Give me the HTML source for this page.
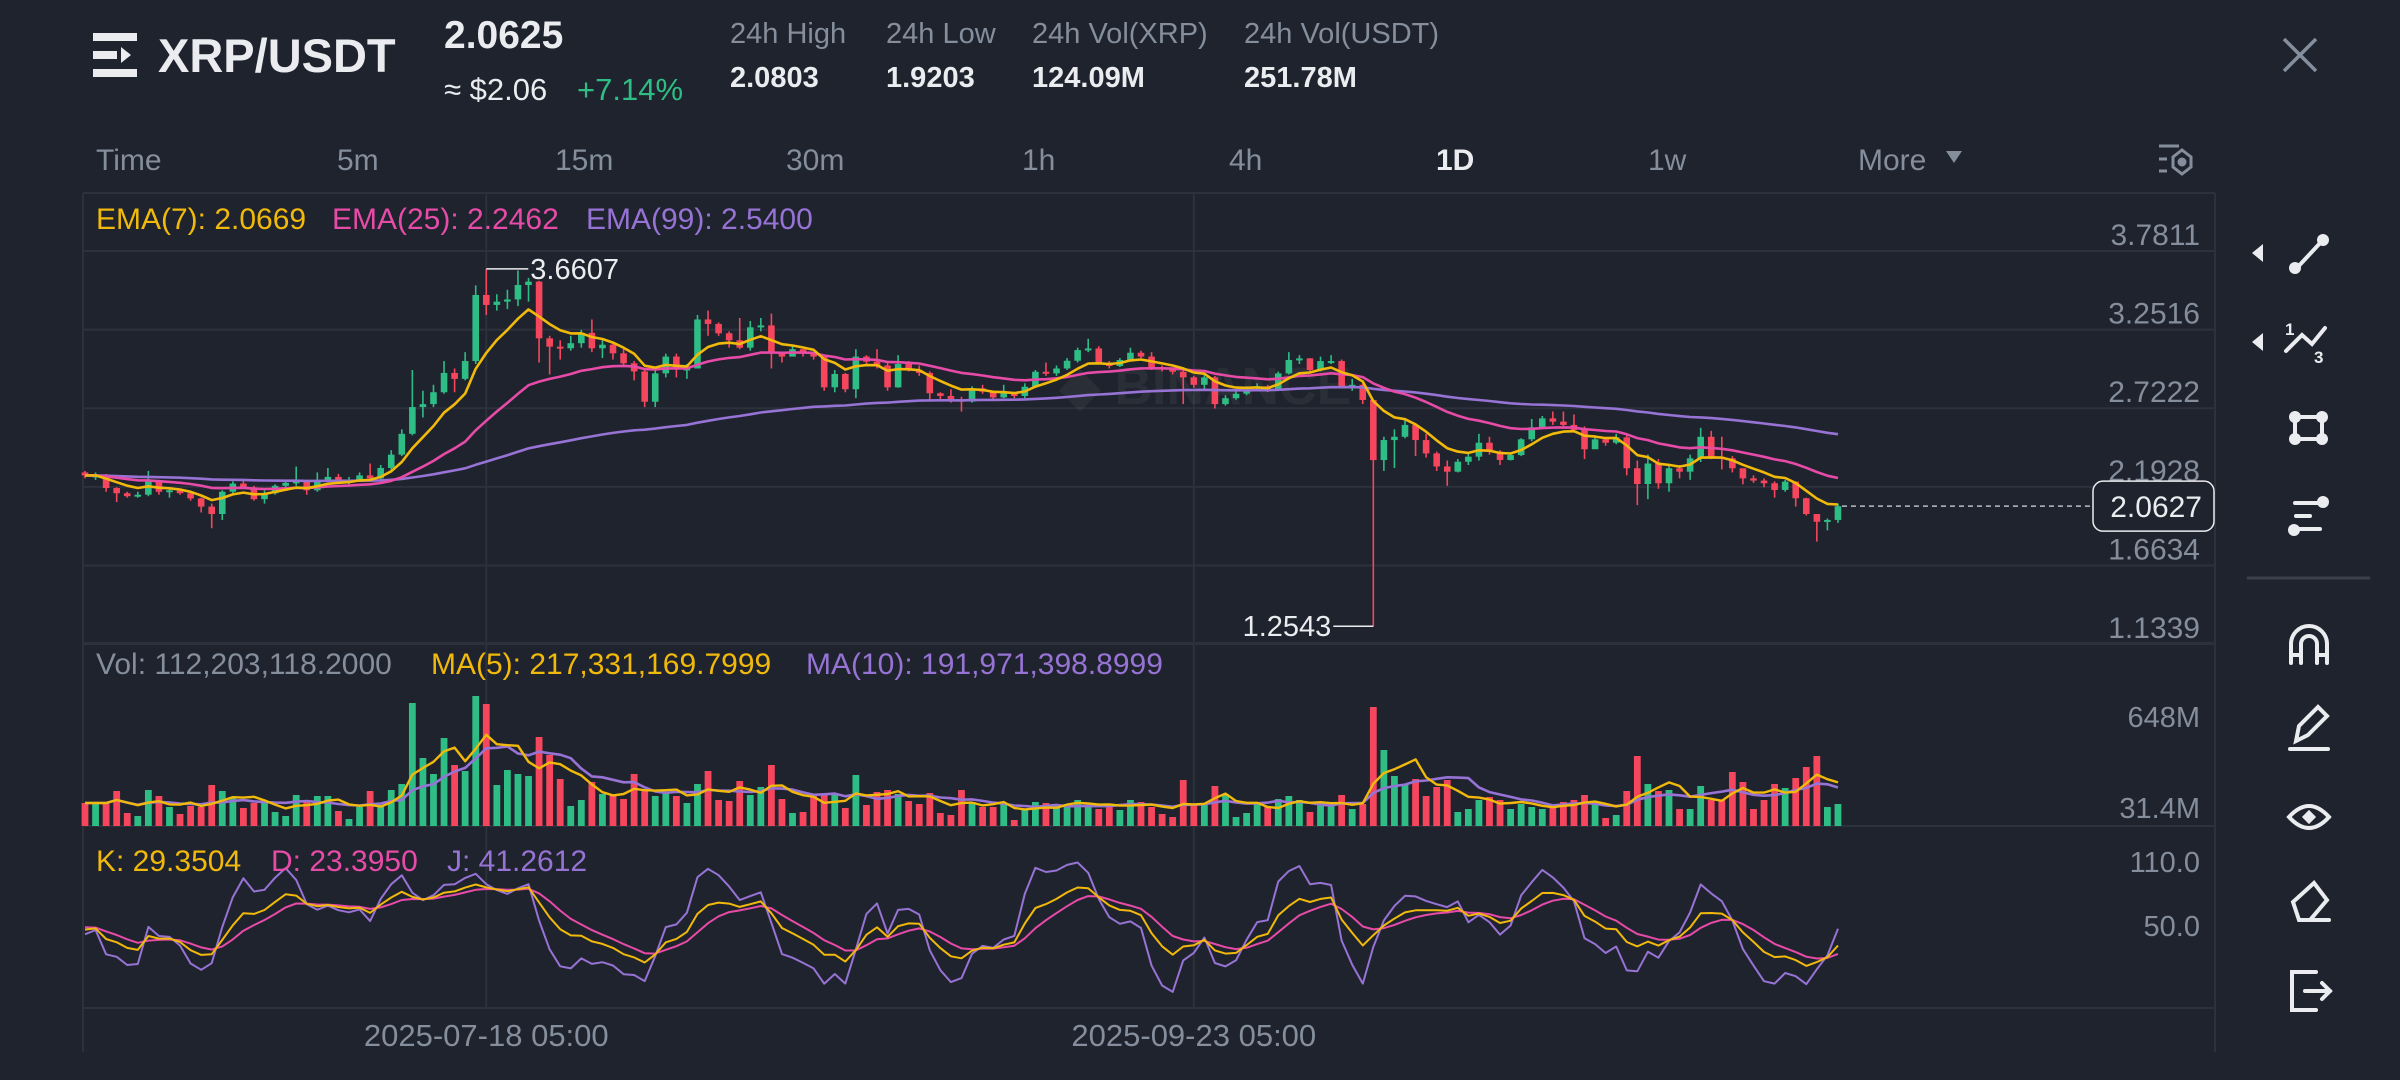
<!DOCTYPE html>
<html><head><meta charset="utf-8"><style>
html,body{margin:0;padding:0;background:#1f232d;}
svg{display:block;font-family:"Liberation Sans",sans-serif;}
</style></head><body>
<svg id="c" width="2400" height="1080" viewBox="0 0 2400 1080" xmlns="http://www.w3.org/2000/svg">
<rect x="0" y="0" width="2400" height="1080" fill="#1f232d"/>
<g>
  <g fill="#eaecef">
    <rect x="93" y="33" width="44" height="8"/><rect x="93" y="51" width="24" height="8"/><polygon points="121,47 121,63 131,55"/><rect x="93" y="69" width="44" height="8"/>
  </g>
  <text x="158" y="72" font-size="47" font-weight="bold" fill="#eaecef">XRP/USDT</text>
  <text x="444" y="48" font-size="39" font-weight="bold" fill="#eaecef">2.0625</text>
  <text x="444" y="100" font-size="31" fill="#eaecef">≈ $2.06</text>
  <text x="577" y="100" font-size="31" fill="#2ebd85">+7.14%</text>
  <g font-size="29" fill="#848e9c">
    <text x="730" y="43">24h High</text>
    <text x="886" y="43">24h Low</text>
    <text x="1032" y="43">24h Vol(XRP)</text>
    <text x="1244" y="43">24h Vol(USDT)</text>
  </g>
  <g font-size="29" font-weight="bold" fill="#eaecef">
    <text x="730" y="87">2.0803</text>
    <text x="886" y="87">1.9203</text>
    <text x="1032" y="87">124.09M</text>
    <text x="1244" y="87">251.78M</text>
  </g>
  <g stroke="#848e9c" stroke-width="3.5"><line x1="2284" y1="39" x2="2316" y2="71"/><line x1="2316" y1="39" x2="2284" y2="71"/></g>
</g>
<g font-size="30" fill="#848e9c">
  <text x="96" y="170">Time</text>
  <text x="337" y="170">5m</text>
  <text x="555" y="170">15m</text>
  <text x="786" y="170">30m</text>
  <text x="1022" y="170">1h</text>
  <text x="1229" y="170">4h</text>
  <text x="1436" y="170" font-weight="bold" fill="#eaecef">1D</text>
  <text x="1648" y="170">1w</text>
  <text x="1858" y="170">More</text>
  <polygon points="1946,151 1962,151 1954,163" fill="#848e9c"/>
  <g stroke="#848e9c" stroke-width="3" fill="none">
    <line x1="2159" y1="146" x2="2179" y2="146"/><line x1="2159" y1="159" x2="2167" y2="159"/><line x1="2159" y1="171" x2="2167" y2="171"/><polygon points="2182,150 2191,157 2191,167 2182,174 2173,167 2173,157"/><circle cx="2182" cy="162" r="3" fill="#848e9c"/>
  </g>
</g>
<g id="grid" stroke="#2c313c" stroke-width="2">
  <line x1="83" y1="193" x2="2215" y2="193"/>
  <line x1="83" y1="193" x2="83" y2="1052"/>
  <line x1="2215" y1="193" x2="2215" y2="1052"/>
  <line x1="83" y1="643" x2="2215" y2="643"/>
  <line x1="83" y1="826" x2="2215" y2="826"/>
  <line x1="83" y1="1008" x2="2215" y2="1008"/>
</g>
<text x="1060" y="404" font-size="52" font-weight="bold" fill="#ffffff" fill-opacity="0.05">◆ BINANCE</text>
<g id="plot"></g>
<g font-size="30">
  <text x="96" y="229" fill="#f0b90b">EMA(7): 2.0669</text>
  <text x="332" y="229" fill="#e74ba8">EMA(25): 2.2462</text>
  <text x="586" y="229" fill="#9673d4">EMA(99): 2.5400</text>
  <text x="96" y="674" fill="#848e9c">Vol: 112,203,118.2000</text>
  <text x="431" y="674" fill="#f0b90b">MA(5): 217,331,169.7999</text>
  <text x="806" y="674" fill="#9673d4">MA(10): 191,971,398.8999</text>
  <text x="96" y="871" fill="#f0b90b">K: 29.3504</text>
  <text x="271" y="871" fill="#e74ba8">D: 23.3950</text>
  <text x="447" y="871" fill="#9673d4">J: 41.2612</text>
</g>
<g stroke="#eaecef" fill="none" stroke-width="4" stroke-linecap="round">
  <g><polygon points="2252,253 2263,244 2263,262" fill="#eaecef" stroke="none"/><line x1="2295" y1="270" x2="2322" y2="241"/><circle cx="2295" cy="268" r="6" fill="#eaecef" stroke="none"/><circle cx="2323" cy="240" r="6" fill="#eaecef" stroke="none"/></g>
  <g><polygon points="2252,342 2263,333 2263,351" fill="#eaecef" stroke="none"/><polyline points="2286,351 2302,335 2312,344 2325,328"/><text x="2285" y="335" font-size="17" font-weight="bold" fill="#eaecef" stroke="none">1</text><text x="2314" y="363" font-size="17" font-weight="bold" fill="#eaecef" stroke="none">3</text></g>
  <g><rect x="2295" y="417" width="27" height="22"/><circle cx="2295" cy="417" r="6" fill="#eaecef" stroke="none"/><circle cx="2322" cy="417" r="6" fill="#eaecef" stroke="none"/><circle cx="2295" cy="439" r="6" fill="#eaecef" stroke="none"/><circle cx="2322" cy="439" r="6" fill="#eaecef" stroke="none"/></g>
  <g><line x1="2295" y1="503" x2="2320" y2="503"/><line x1="2296" y1="516" x2="2310" y2="516"/><line x1="2298" y1="529" x2="2320" y2="529"/><circle cx="2323" cy="502" r="6" fill="#eaecef" stroke="none"/><circle cx="2294" cy="530" r="6" fill="#eaecef" stroke="none"/></g>
  <line x1="2248" y1="578" x2="2369" y2="578" stroke="#3a404c" stroke-width="3"/>
  <g><path d="M2291,663 V644 a18,18 0 0 1 36,0 V663"/><path d="M2301,663 V644 a8,8 0 0 1 16,0 V663"/><line x1="2291" y1="655" x2="2301" y2="655"/><line x1="2317" y1="655" x2="2327" y2="655"/></g>
  <g><path d="M2296,741 L2299,726 L2318,707 L2327,716 L2308,735 Z"/><line x1="2290" y1="749" x2="2328" y2="749"/></g>
  <g><path d="M2289,817 Q2309,795 2329,817 Q2309,839 2289,817 Z"/><rect x="2304" y="812" width="10" height="10" transform="rotate(45 2309 817)" fill="#eaecef" stroke="none"/></g>
  <g><path d="M2293,902 L2314,883 L2327,900 L2310,920 L2299,920 Z"/><line x1="2310" y1="920" x2="2329" y2="920"/></g>
  <g><path d="M2316,972 H2292 V1010 H2316"/><line x1="2305" y1="991" x2="2330" y2="991"/><polyline points="2322,983 2330,991 2322,999"/></g>
</g>
</svg>
<script>
const dates = ["2025-07-18 05:00","2025-09-23 05:00"];
const dateIdx = [38,105];
const priceTicks = [3.7811,3.2516,2.7222,2.1928,1.6634,1.1339];
const volTickLabels = ["648M","31.4M"];
const kdjTickLabels = ["110.0","50.0"];
const closes = [2.27,2.27,2.185,2.15,2.13,2.14,2.23,2.16,2.17,2.15,
2.115,2.06,2.01,2.16,2.215,2.19,2.11,2.15,2.20,2.22,
2.23,2.17,2.24,2.26,2.24,2.24,2.27,2.25,2.32,2.41,
2.55,2.73,2.75,2.83,2.96,2.92,3.04,3.485,3.418,3.44,
3.455,3.552,3.575,3.193,3.137,3.126,3.16,3.23,3.126,3.15,
3.092,3.025,2.97,2.766,2.957,3.07,2.99,2.99,3.32,3.29,
3.227,3.18,3.13,3.267,3.28,3.103,3.07,3.12,3.09,3.07,
2.863,2.953,2.85,3.07,3.036,3.01,2.863,3.02,2.98,2.96,
2.823,2.805,2.782,2.767,2.856,2.834,2.795,2.822,2.805,2.867,
2.968,2.957,2.99,3.042,3.114,3.125,3.03,3.007,3.047,3.096,
3.07,3.0,2.984,2.968,2.93,2.88,2.93,2.75,2.79,2.82,
2.855,2.87,2.845,2.957,3.047,3.058,2.98,3.04,3.04,2.87,
2.88,2.778,2.373,2.508,2.53,2.61,2.508,2.418,2.33,2.295,
2.362,2.396,2.49,2.43,2.374,2.407,2.513,2.594,2.654,2.632,
2.61,2.576,2.446,2.513,2.49,2.526,2.318,2.212,2.35,2.217,
2.318,2.295,2.385,2.53,2.396,2.385,2.318,2.25,2.235,2.217,
2.172,2.228,2.116,2.01,1.958,1.97,2.0627];
const highs = [2.30,2.29,2.28,2.19,2.16,2.16,2.30,2.24,2.19,2.18,
2.16,2.12,2.08,2.17,2.23,2.24,2.20,2.17,2.21,2.23,
2.33,2.24,2.29,2.32,2.28,2.26,2.29,2.35,2.34,2.44,
2.58,2.98,2.84,2.88,3.04,2.99,3.10,3.55,3.6607,3.49,
3.52,3.65,3.60,3.58,3.21,3.18,3.21,3.25,3.32,3.18,
3.16,3.12,3.04,2.98,2.99,3.09,3.09,3.02,3.35,3.38,
3.30,3.24,3.33,3.31,3.33,3.36,3.10,3.14,3.12,3.10,
3.08,2.98,2.96,3.12,3.08,3.12,3.04,3.08,3.04,3.01,
2.97,2.83,2.85,2.80,2.87,2.88,2.84,2.88,2.83,2.89,
2.98,3.03,3.01,3.06,3.13,3.19,3.14,3.04,3.06,3.13,
3.11,3.10,3.01,2.99,2.98,2.94,2.96,2.94,2.81,2.84,
2.87,2.89,2.88,2.97,3.10,3.08,3.06,3.07,3.08,3.05,
2.92,2.89,2.78,2.53,2.58,2.64,2.62,2.55,2.43,2.37,
2.38,2.42,2.55,2.53,2.44,2.42,2.52,2.65,2.67,2.70,
2.70,2.68,2.60,2.54,2.53,2.55,2.54,2.37,2.41,2.38,
2.34,2.34,2.41,2.59,2.57,2.53,2.40,2.31,2.27,2.25,
2.23,2.24,2.23,2.12,2.00,1.98,2.08];
const lows = [2.25,2.24,2.16,2.09,2.12,2.12,2.13,2.14,2.12,2.14,
2.10,2.02,1.914,1.97,2.15,2.18,2.10,2.08,2.14,2.19,
2.20,2.14,2.16,2.23,2.22,2.21,2.23,2.24,2.24,2.30,
2.40,2.54,2.66,2.73,2.82,2.83,2.91,3.02,3.35,3.38,
3.39,3.41,3.44,3.03,2.95,3.05,3.11,3.13,3.10,3.06,
3.05,3.00,2.91,2.73,2.73,2.93,2.93,2.92,2.99,3.21,
3.21,3.13,3.12,3.11,3.24,2.99,3.03,3.08,3.07,3.05,
2.84,2.83,2.83,2.79,3.02,2.99,2.84,2.86,2.97,2.94,
2.78,2.77,2.76,2.70,2.76,2.82,2.78,2.79,2.79,2.79,
2.86,2.94,2.94,2.98,3.03,3.10,3.02,2.99,3.00,3.04,
3.06,2.98,2.97,2.95,2.75,2.86,2.85,2.72,2.74,2.78,
2.81,2.84,2.83,2.84,2.95,3.02,2.97,2.97,3.02,2.86,
2.84,2.75,1.2543,2.30,2.32,2.52,2.40,2.39,2.30,2.20,
2.29,2.34,2.37,2.41,2.34,2.37,2.40,2.50,2.59,2.61,
2.60,2.56,2.38,2.45,2.47,2.48,2.27,2.07,2.11,2.18,
2.16,2.25,2.24,2.36,2.38,2.31,2.29,2.21,2.22,2.19,
2.12,2.16,2.06,2.00,1.824,1.90,1.95];
const volumes = [138,138,138,210,78,60,216,180,114,72,
120,114,246,210,174,108,138,138,84,60,
186,156,180,180,90,42,114,210,126,216,
252,738,408,312,528,366,330,780,732,246,
336,312,300,534,426,282,120,156,264,192,
186,162,312,222,180,198,180,138,252,330,
156,150,270,186,234,366,162,78,84,186,
186,192,108,306,126,204,216,192,150,132,
198,78,66,216,144,114,114,132,36,102,
144,138,126,132,156,126,102,132,96,156,
144,114,72,54,276,132,132,240,192,54,
78,132,114,162,180,156,84,132,132,186,
102,132,714,456,300,246,282,180,234,276,
84,102,156,174,156,102,132,114,102,114,
144,156,186,132,48,66,210,420,252,210,
216,102,102,240,156,156,324,264,102,156,
252,228,288,354,420,114,132];

const NS = "http://www.w3.org/2000/svg";
const plot = document.getElementById('plot');
const X0 = 85, DX = 10.56;
function xAt(i){ return X0 + i*DX; }
function yP(p){ return 251 + (3.7811 - p)*148.5; }
function yV(v){ return 826 - v/6; }
function yK(v){ return Math.max(828, Math.min(1006, 926 - (v-50)*1.067)); }
function mk(tag, attrs, parent){
  const e = document.createElementNS(NS, tag);
  for (const k in attrs) e.setAttribute(k, attrs[k]);
  (parent||plot).appendChild(e);
  return e;
}
const GREEN = "#2ebd85", RED = "#f6465d";

const gg = document.getElementById('grid');
for (let t = 0; t < priceTicks.length; t++) {
  const gl = mk('line', {x1:83, x2:2215, y1:yP(priceTicks[t]), y2:yP(priceTicks[t]), stroke:"#2c313c", "stroke-width":2}, gg);
  
  
}
for (let d = 0; d < dates.length; d++) {
  const vl = mk('line', {x1:xAt(dateIdx[d]), x2:xAt(dateIdx[d]), y1:193, y2:1008, stroke:"#2c313c", "stroke-width":2}, gg);
  
  
  const dt = mk('text', {x:xAt(dateIdx[d]), y:1046, "font-size":31, fill:"#848e9c", "text-anchor":"middle"});
  dt.textContent = dates[d];
  
  
}
for (let t = 0; t < priceTicks.length; t++) {
  const tl = mk('text', {x:2200, y:yP(priceTicks[t])-6, "font-size":30, fill:"#848e9c", "text-anchor":"end"});
  tl.textContent = priceTicks[t].toFixed(4);
  
  
}
const vy = [727, 818];
for (let t = 0; t < volTickLabels.length; t++) {
  const tl = mk('text', {x:2200, y:vy[t], "font-size":29, fill:"#848e9c", "text-anchor":"end"});
  tl.textContent = volTickLabels[t];
  
  
}
const ky = [872, 936];
for (let t = 0; t < kdjTickLabels.length; t++) {
  const tl = mk('text', {x:2200, y:ky[t], "font-size":29, fill:"#848e9c", "text-anchor":"end"});
  tl.textContent = kdjTickLabels[t];
  
  
}

const N = closes.length;
const opens = closes.map((c,i)=> i===0 ? 2.29 : closes[i-1]);

for (let i = 0; i < N; i++) {
  const up = closes[i] >= opens[i];
  const y = yV(volumes[i]);
  const b = mk('rect', {x:xAt(i)-3.4, y:y, width:6.8, height:826-y, fill: up?GREEN:RED});
  
  
}
for (let i = 0; i < N; i++) {
  const up = closes[i] >= opens[i];
  const col = up?GREEN:RED;
  const w = mk('line', {x1:xAt(i), x2:xAt(i), y1:yP(highs[i]), y2:yP(lows[i]), stroke:col, "stroke-width":1.6});
  
  
  const top = yP(Math.max(opens[i],closes[i])), bot = yP(Math.min(opens[i],closes[i]));
  const r = mk('rect', {x:xAt(i)-3.3, y:top, width:6.6, height:Math.max(2, bot-top), fill:col});
  
  
}
function ema(arr, n){ const k=2/(n+1); const out=[]; let e=arr[0]; for(let i=0;i<arr.length;i++){ e = i===0?arr[0]:arr[i]*k+e*(1-k); out.push(e);} return out; }
function sma(arr, n){ return arr.map((_,i)=>{ const s=arr.slice(Math.max(0,i-n+1),i+1); return s.reduce((a,b)=>a+b,0)/s.length; }); }
function poly(vals, yf, color, name, w){
  const pts = vals.map((v,i)=> xAt(i).toFixed(1)+","+yf(v).toFixed(1)).join(" ");
  const p = mk('polyline', {points:pts, fill:"none", stroke:color, "stroke-width":w, "stroke-linejoin":"round"});
  
  
}
poly(ema(closes,99), yP, "#9673d4", "ema99-line", 2.6);
poly(ema(closes,25), yP, "#e74ba8", "ema25-line", 2.6);
poly(ema(closes,7), yP, "#f0b90b", "ema7-line", 2.6);
poly(sma(volumes,10), yV, "#9673d4", "volume-ma10-line", 2.6);
poly(sma(volumes,5), yV, "#f0b90b", "volume-ma5-line", 2.4);
const K=[],D=[],J=[]; let k=50,d=50;
for (let i=0;i<N;i++){
  const s=Math.max(0,i-8); const hh=Math.max(...highs.slice(s,i+1)); const ll=Math.min(...lows.slice(s,i+1));
  const rsv = hh===ll?50:(closes[i]-ll)/(hh-ll)*100;
  k = 2/3*k + rsv/3; d = 2/3*d + k/3; K.push(k); D.push(d); J.push(3*k-2*d);
}
poly(J, yK, "#9673d4", "kdj-j-line", 2);
poly(D, yK, "#e74ba8", "kdj-d-line", 2);
poly(K, yK, "#f0b90b", "kdj-k-line", 2);

let hi=0, lo=0;
for (let i=0;i<N;i++){ if(highs[i]>highs[hi]) hi=i; if(lows[i]<lows[lo]) lo=i; }
const mxl = mk('line', {x1:xAt(hi), x2:xAt(hi)+42, y1:yP(highs[hi]), y2:yP(highs[hi]), stroke:"#eaecef", "stroke-width":1.5});


const mxt = mk('text', {x:xAt(hi)+44, y:yP(highs[hi])+10, "font-size":29, fill:"#eaecef"});
mxt.textContent = highs[hi].toFixed(4);


const mnl = mk('line', {x1:xAt(lo)-40, x2:xAt(lo), y1:yP(lows[lo]), y2:yP(lows[lo]), stroke:"#eaecef", "stroke-width":1.5});


const mnt = mk('text', {x:xAt(lo)-42, y:yP(lows[lo])+10, "font-size":29, fill:"#eaecef", "text-anchor":"end"});
mnt.textContent = lows[lo].toFixed(4);



const cp = closes[N-1], cy = yP(cp);
const cl = mk('line', {x1:xAt(N-1)+4, x2:2093, y1:cy, y2:cy, stroke:"#b7bdc6", "stroke-width":1.5, "stroke-dasharray":"5,4"});


const cb = mk('rect', {x:2093, y:cy-25, width:121, height:50, rx:10, fill:"#1f232d", stroke:"#eaecef", "stroke-width":1.5});


const ct = mk('text', {x:2202, y:cy+11, "font-size":30, fill:"#eaecef", "text-anchor":"end"});
ct.textContent = cp.toFixed(4);


</script>
</body></html>
